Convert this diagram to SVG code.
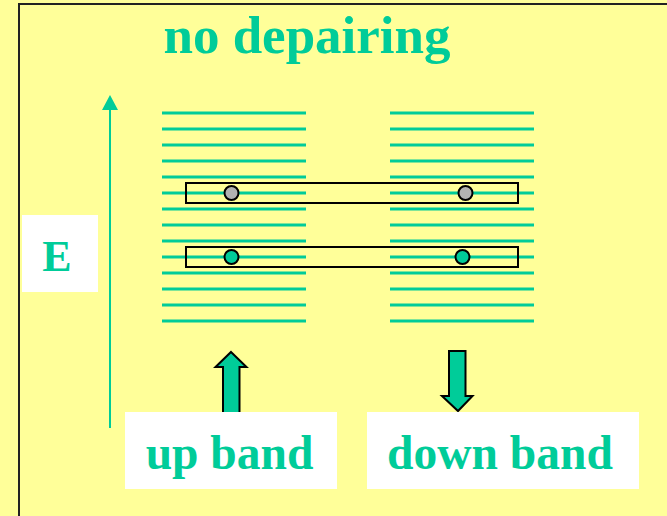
<svg xmlns="http://www.w3.org/2000/svg" width="667" height="516" viewBox="0 0 667 516">
  <style>
    .lvl { stroke: #00CC99; stroke-width: 3; }
    .pair { fill: none; stroke: #000; stroke-width: 2; }
    .lbl { font-family: "Liberation Serif", "Times New Roman", serif; font-weight: bold; fill: #00CC99; }
    .box { fill: #FFFFFF; }
    .bigarrow { fill: #00CC99; stroke: #000; stroke-width: 2; stroke-linejoin: miter; }
    .dot { stroke: #000; stroke-width: 2; }
  </style>
  <defs>
    <g id="levels">
      <line class="lvl" x1="0" y1="113" x2="144" y2="113"/>
      <line class="lvl" x1="0" y1="129" x2="144" y2="129"/>
      <line class="lvl" x1="0" y1="145" x2="144" y2="145"/>
      <line class="lvl" x1="0" y1="161" x2="144" y2="161"/>
      <line class="lvl" x1="0" y1="177" x2="144" y2="177"/>
      <line class="lvl" x1="0" y1="193" x2="144" y2="193"/>
      <line class="lvl" x1="0" y1="209" x2="144" y2="209"/>
      <line class="lvl" x1="0" y1="225" x2="144" y2="225"/>
      <line class="lvl" x1="0" y1="241" x2="144" y2="241"/>
      <line class="lvl" x1="0" y1="257" x2="144" y2="257"/>
      <line class="lvl" x1="0" y1="273" x2="144" y2="273"/>
      <line class="lvl" x1="0" y1="289" x2="144" y2="289"/>
      <line class="lvl" x1="0" y1="305" x2="144" y2="305"/>
      <line class="lvl" x1="0" y1="321" x2="144" y2="321"/>
    </g>
  </defs>

  <!-- background and frame -->
  <rect x="0" y="0" width="667" height="516" fill="#FFFF99"/>
  <rect x="19" y="4" width="660" height="530" fill="none" stroke="#222" stroke-width="2"/>

  <!-- title -->
  <text class="lbl" x="307" y="53" font-size="53" text-anchor="middle">no depairing</text>

  <!-- energy axis -->
  <g id="energy-axis">
    <line x1="110" y1="428" x2="110" y2="108" stroke="#00CC99" stroke-width="2"/>
    <polygon points="110,95 102,110 118,110" fill="#00CC99"/>
  </g>
  <g id="energy-label">
    <rect class="box" x="22" y="215" width="76" height="77"/>
    <text class="lbl" x="57" y="271" font-size="44" text-anchor="middle">E</text>
  </g>

  <!-- spin-up levels -->
  <g id="up-levels">
    <use href="#levels" x="162"/>
  </g>
  <!-- spin-down levels -->
  <g id="down-levels">
    <use href="#levels" x="390"/>
  </g>

  <!-- pairs -->
  <g id="pair-upper">
    <rect class="pair" x="186" y="183" width="332" height="20"/>
    <circle class="dot" cx="231.5" cy="193" r="7" fill="#B2B2B2"/>
    <circle class="dot" cx="465.5" cy="193" r="7" fill="#B2B2B2"/>
  </g>
  <g id="pair-lower">
    <rect class="pair" x="186" y="247" width="332" height="20"/>
    <circle class="dot" cx="231.5" cy="257" r="7" fill="#00CC99"/>
    <circle class="dot" cx="462.5" cy="257" r="7" fill="#00CC99"/>
  </g>

  <!-- spin arrows -->
  <g id="up-arrow">
    <polygon class="bigarrow" points="231,352 246.5,367 239.5,367 239.5,413 223,413 223,367 215.5,367"/>
  </g>
  <g id="down-arrow">
    <polygon class="bigarrow" points="449,351 465.5,351 465.5,396 472.5,396 458,411 442,396 449,396"/>
  </g>

  <!-- band labels -->
  <g id="up-band">
    <rect class="box" x="125" y="412" width="212" height="77"/>
    <text class="lbl" x="229.5" y="469" font-size="47.5" text-anchor="middle">up band</text>
  </g>
  <g id="down-band">
    <rect class="box" x="367" y="412" width="272" height="77"/>
    <text class="lbl" x="500" y="469" font-size="47.5" text-anchor="middle">down band</text>
  </g>
</svg>
